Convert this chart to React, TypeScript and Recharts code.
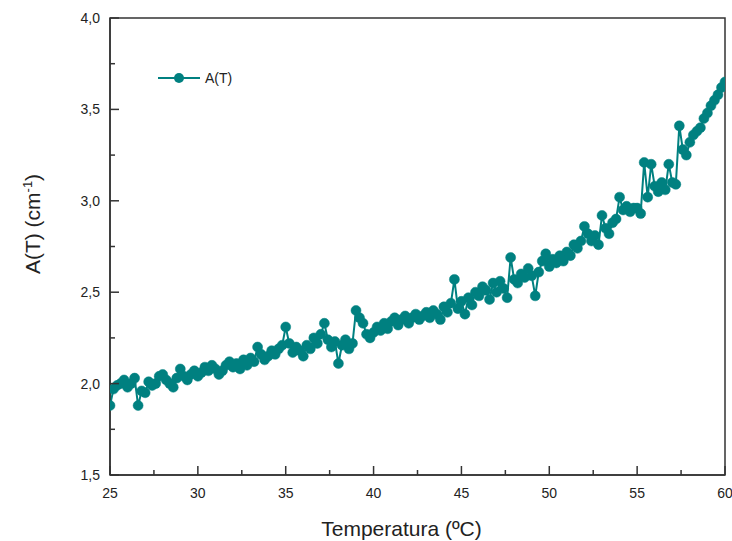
import { LineChart, Line, XAxis, YAxis, ReferenceArea, Label } from 'recharts';

const temps = [
  25.0, 25.2, 25.4, 25.6, 25.8, 26.0, 26.2, 26.4, 26.6, 26.8,
  27.0, 27.2, 27.4, 27.6, 27.8, 28.0, 28.2, 28.4, 28.6, 28.8,
  29.0, 29.2, 29.4, 29.6, 29.8, 30.0, 30.2, 30.4, 30.6, 30.8,
  31.0, 31.2, 31.4, 31.6, 31.8, 32.0, 32.2, 32.4, 32.6, 32.8,
  33.0, 33.2, 33.4, 33.6, 33.8, 34.0, 34.2, 34.4, 34.6, 34.8,
  35.0, 35.2, 35.4, 35.6, 35.8, 36.0, 36.2, 36.4, 36.6, 36.8,
  37.0, 37.2, 37.4, 37.6, 37.8, 38.0, 38.2, 38.4, 38.6, 38.8,
  39.0, 39.2, 39.4, 39.6, 39.8, 40.0, 40.2, 40.4, 40.6, 40.8,
  41.0, 41.2, 41.4, 41.6, 41.8, 42.0, 42.2, 42.4, 42.6, 42.8,
  43.0, 43.2, 43.4, 43.6, 43.8, 44.0, 44.2, 44.4, 44.6, 44.8,
  45.0, 45.2, 45.4, 45.6, 45.8, 46.0, 46.2, 46.4, 46.6, 46.8,
  47.0, 47.2, 47.4, 47.6, 47.8, 48.0, 48.2, 48.4, 48.6, 48.8,
  49.0, 49.2, 49.4, 49.6, 49.8, 50.0, 50.2, 50.4, 50.6, 50.8,
  51.0, 51.2, 51.4, 51.6, 51.8, 52.0, 52.2, 52.4, 52.6, 52.8,
  53.0, 53.2, 53.4, 53.6, 53.8, 54.0, 54.2, 54.4, 54.6, 54.8,
  55.0, 55.2, 55.4, 55.6, 55.8, 56.0, 56.2, 56.4, 56.6, 56.8,
  57.0, 57.2, 57.4, 57.6, 57.8, 58.0, 58.2, 58.4, 58.6, 58.8,
  59.0, 59.2, 59.4, 59.6, 59.8, 60.0,
];

const absorb = [
  1.88, 1.97, 1.99, 2.00, 2.02, 1.98, 2.00, 2.03, 1.88, 1.96,
  1.95, 2.01, 1.99, 2.00, 2.04, 2.05, 2.02, 2.00, 1.98, 2.03,
  2.08, 2.04, 2.02, 2.05, 2.07, 2.04, 2.06, 2.09, 2.07, 2.10,
  2.08, 2.05, 2.07, 2.10, 2.12, 2.09, 2.11, 2.08, 2.13, 2.10,
  2.14, 2.12, 2.20, 2.16, 2.13, 2.15, 2.18, 2.16, 2.19, 2.21,
  2.31, 2.22, 2.17, 2.20, 2.18, 2.15, 2.21, 2.19, 2.25, 2.22,
  2.27, 2.33, 2.24, 2.20, 2.23, 2.11, 2.21, 2.24, 2.19, 2.22,
  2.40, 2.36, 2.33, 2.27, 2.25, 2.28, 2.31, 2.29, 2.33, 2.30,
  2.34, 2.36, 2.32, 2.35, 2.37, 2.33, 2.36, 2.38, 2.35, 2.37,
  2.39, 2.36, 2.40, 2.38, 2.35, 2.42, 2.39, 2.44, 2.57, 2.41,
  2.45, 2.38, 2.47, 2.43, 2.50, 2.48, 2.53, 2.51, 2.46, 2.55,
  2.50, 2.56, 2.52, 2.47, 2.69, 2.57, 2.55, 2.60, 2.58, 2.63,
  2.59, 2.48, 2.61, 2.67, 2.71, 2.64, 2.68, 2.66, 2.70, 2.67,
  2.72, 2.70, 2.76, 2.74, 2.78, 2.86, 2.82, 2.78, 2.81, 2.76,
  2.92, 2.85, 2.82, 2.88, 2.90, 3.02, 2.95, 2.97, 2.94, 2.96,
  2.96, 2.93, 3.21, 3.02, 3.20, 3.08, 3.05, 3.10, 3.06, 3.20,
  3.10, 3.09, 3.41, 3.28, 3.25, 3.32, 3.36, 3.38, 3.40, 3.45,
  3.48, 3.52, 3.55, 3.58, 3.62, 3.65,
];

const xTicks = [25, 27.5, 30, 32.5, 35, 37.5, 40, 42.5, 45, 47.5, 50, 52.5, 55, 57.5, 60];
const yTicks = [1.5, 1.75, 2.0, 2.25, 2.5, 2.75, 3.0, 3.25, 3.5, 3.75, 4.0];

const data = temps.map((t, i) => ({ t, a: absorb[i] }));

const TEAL = '#008080';
const AXIS = '#333';
const FONT = 'Arial, "Liberation Sans", sans-serif';

const XTick = (props: any) => {
  const { x, y, payload } = props;
  const major = payload.value % 5 === 0;
  return (
    <g>
      <line x1={x} y1={y} x2={x} y2={y - (major ? 9 : 5)} stroke={AXIS} strokeWidth={1.5} />
      {major && (
        <text x={x} y={y + 23} textAnchor="middle" fontSize={14} fill="#222" fontFamily={FONT}>
          {payload.value}
        </text>
      )}
    </g>
  );
};

const YTick = (props: any) => {
  const { x, y, payload } = props;
  const major = Math.abs((payload.value * 2) % 1) < 1e-6;
  return (
    <g>
      <line x1={x} y1={y} x2={x + (major ? 9 : 5)} y2={y} stroke={AXIS} strokeWidth={1.5} />
      {major && (
        <text x={x - 10} y={y + 5} textAnchor="end" fontSize={14} fill="#222" fontFamily={FONT}>
          {payload.value.toFixed(1).replace('.', ',')}
        </text>
      )}
    </g>
  );
};

// legend drawn as an overlay so it doesn't eat into the plot area
const LegendBox = () => (
  <svg width={100} height={20} style={{ position: 'absolute', left: 155, top: 68 }}>
    <line x1={3} y1={10} x2={45} y2={10} stroke={TEAL} strokeWidth={2} />
    <circle cx={24} cy={10} r={5} fill={TEAL} />
    <text x={50} y={15} fontSize={14} fill="#222" fontFamily={FONT}>A(T)</text>
  </svg>
);

export default function App() {
  return (
    <div style={{ position: 'absolute', left: 0, top: 0, width: 732, height: 541, background: '#fff' }}>
      <LineChart width={732} height={541} data={data} margin={{ top: 18, right: 7, left: 0, bottom: 0 }}>
        <XAxis
          dataKey="t"
          type="number"
          domain={[25, 60]}
          ticks={xTicks}
          interval={0}
          tickSize={0}
          tickMargin={0}
          tickLine={false}
          tick={<XTick />}
          height={66}
          stroke={AXIS}
          strokeWidth={1.5}
          allowDataOverflow
        >
          <Label value="Temperatura (ºC)" position="insideBottom" offset={5} fontSize={21} fill="#222" fontFamily={FONT} dx={-16} />
        </XAxis>
        <YAxis
          type="number"
          domain={[1.5, 4.0]}
          ticks={yTicks}
          interval={0}
          tickSize={0}
          tickMargin={0}
          tickLine={false}
          tick={<YTick />}
          width={110}
          stroke={AXIS}
          strokeWidth={1.5}
          allowDataOverflow
          label={(
            <text x={36} y={243} transform="rotate(-90 36 243)" textAnchor="middle" fontSize={21} fill="#222" fontFamily={FONT}>
              A(T) (cm<tspan dy={-8} fontSize={13}>-1</tspan><tspan dy={8}>)</tspan>
            </text>
          ) as any}
        />
        <ReferenceArea x1={25} x2={60} y1={1.5} y2={4.0} fill="none" stroke={AXIS} strokeWidth={1.5} ifOverflow="visible" />
        <Line
          dataKey="a"
          name="A(T)"
          stroke={TEAL}
          strokeWidth={2}
          dot={{ r: 5, fill: TEAL, stroke: TEAL, strokeWidth: 0.5 }}
          isAnimationActive={false}
        />
      </LineChart>
      <LegendBox />
    </div>
  );
}
